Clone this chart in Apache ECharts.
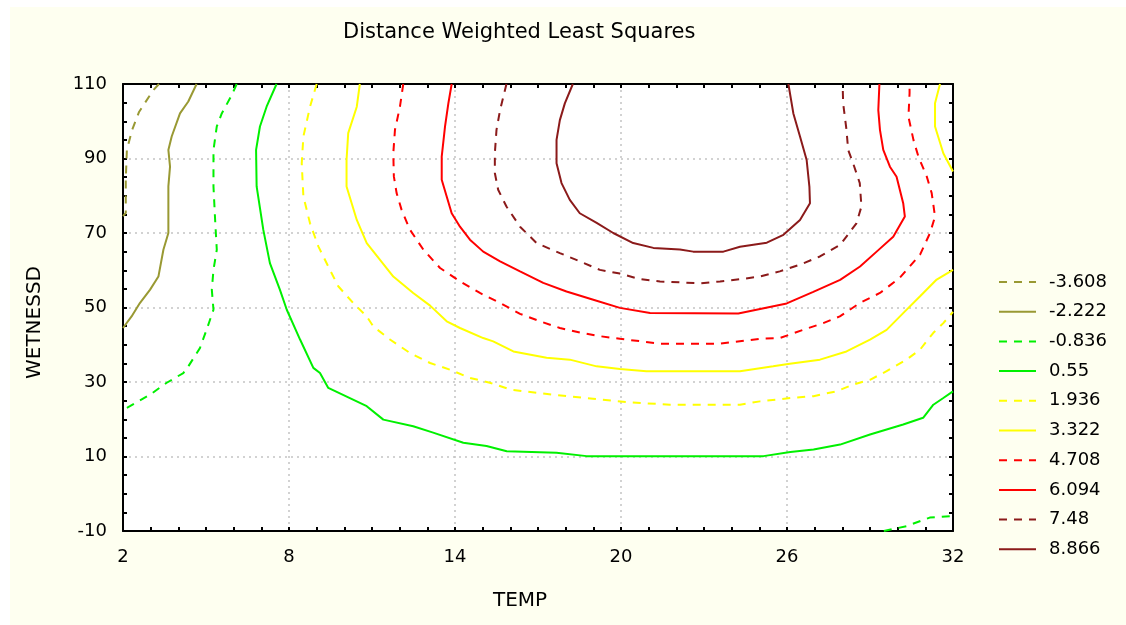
<!DOCTYPE html>
<html>
<head>
<meta charset="utf-8">
<script src="https://cdn.jsdelivr.net/npm/echarts@6.0.0/dist/echarts.min.js"></script>
<style>
  html, body { margin: 0; background: #fff; }
  #chart { position: absolute; left: 10px; top: 7px; width: 1116px; height: 618px; }
</style>
</head>
<body>
<div id="chart"></div>
<script>
// contour levels (legend order)
const levels = ['-3.608', '-2.222', '-0.836', '0.55', '1.936', '3.322', '4.708', '6.094', '7.48', '8.866'];

// contour lines, points as [TEMP, WETNESSD]
const lvlM3608 = [[3.3,110],[3.08,108.2],[2.58,102.5],[2.33,97.7],[2.14,92.3],[2.1,84.3],[2.1,75.4],[2.0,74.5]];
const lvlM2222 = [[4.66,110],[4.36,105.3],[4.06,102.1],[3.76,95.9],[3.64,92.3],[3.7,87.8],[3.64,82.5],[3.64,70],[3.46,65.5],[3.28,58.3],[2.98,54.8],[2.61,51.2],[2.31,47.6],[2.0,44.5]];
const lvlM0836a = [[6.11,110],[5.93,107],[5.57,102.1],[5.39,98.6],[5.27,92.3],[5.27,82.5],[5.33,73.5],[5.39,65.5],[5.27,60.1],[5.21,54.8],[5.27,49.4],[5.02,44.0],[4.78,39.1],[4.36,34.2],[4.18,32.4],[3.58,29.8],[2.98,26.6],[2.25,23.5],[2.0,22.5]];
const lvlM0836b = [[29.5,-10],[30.32,-8.7],[31.16,-6.4],[32,-6]];
const lvl0550 = [[7.55,110],[7.19,103.9],[6.95,98.6],[6.81,92.3],[6.83,82.5],[7.07,70.9],[7.31,61.9],[7.67,54.8],[7.92,49.4],[8.4,41.4],[8.88,33.8],[9.12,32.4],[9.42,28.4],[10.81,23.5],[11.41,19.9],[12.49,18.1],[13.21,16.4],[14.3,13.7],[15.14,12.8],[15.87,11.4],[17.67,11.0],[18.76,10.1],[25.15,10.1],[26.12,11.2],[26.96,11.9],[27.92,13.2],[29.0,15.9],[30.2,18.6],[30.92,20.4],[31.29,23.9],[31.65,25.7],[32,27.5]];
const lvl1936 = [[9.0,110],[8.76,103.9],[8.52,95.9],[8.46,88.7],[8.52,79.8],[8.76,72.6],[9.06,66.4],[9.48,60.1],[9.78,55.7],[10.32,51.2],[10.81,47.6],[11.05,44.9],[11.65,41.4],[12.37,37.8],[13.1,35.1],[13.82,33.3],[14.54,31.1],[15.26,29.8],[15.99,28.0],[16.6,27.4],[17.55,26.6],[18.99,25.5],[20.2,24.6],[21.77,23.9],[24.3,23.9],[25.02,24.8],[26.12,25.7],[26.96,26.2],[27.79,27.5],[28.39,29.3],[29.0,30.6],[29.6,32.9],[30.32,36.0],[30.81,38.7],[31.29,43.2],[31.65,45.8],[32,48.8]];
const lvl3322a = [[10.56,110],[10.45,103.9],[10.14,96.8],[10.08,89.6],[10.08,82.5],[10.45,73.5],[10.81,67.3],[11.29,62.8],[11.77,58.3],[12.49,53.9],[13.1,50.5],[13.7,46.3],[14.18,44.5],[15.02,41.8],[15.38,40.9],[16.11,38.2],[17.31,36.5],[18.15,36.0],[19.12,34.2],[19.96,33.5],[20.92,32.9],[24.3,32.9],[25.5,34.2],[26.1,34.9],[27.19,36.0],[28.15,38.2],[29.0,41.4],[29.6,44.0],[30.2,48.5],[30.81,53.0],[31.41,57.5],[32,60.1]];
const lvl3322b = [[31.53,110],[31.35,104.8],[31.35,98.6],[31.65,91.4],[32,86.5]];
const lvl4708 = [[12.13,110],[12.01,103.9],[11.83,97.7],[11.77,91.4],[11.79,85.2],[11.89,80.7],[12.07,76.2],[12.37,70.9],[12.86,65.5],[13.46,60.6],[14.18,57.0],[14.9,53.9],[15.63,51.2],[16.35,48.3],[17.07,46.3],[17.79,44.5],[18.51,43.3],[19.24,42.3],[19.96,41.6],[21.41,40.3],[23.58,40.3],[25.02,41.6],[25.74,41.8],[26.58,44.0],[27.31,45.8],[27.91,47.6],[28.63,51.2],[29.36,53.9],[30.08,58.0],[30.81,64.2],[31.17,70.0],[31.35,74.4],[31.23,80.7],[31.05,85.2],[30.75,90.5],[30.57,95.0],[30.39,101.2],[30.43,107.5],[30.43,110]];
const lvl6094 = [[13.88,110],[13.76,104.8],[13.64,98.6],[13.52,90.5],[13.52,84.3],[13.7,79.8],[13.88,75.3],[14.18,71.7],[14.54,68.2],[15.02,65.0],[15.63,62.4],[16.35,59.7],[17.19,56.6],[18.03,54.3],[19.0,52.1],[19.96,49.9],[21.05,48.5],[24.24,48.4],[25.99,51.1],[26.95,54.2],[27.92,57.4],[28.64,61.0],[29.24,65.0],[29.84,69.0],[30.26,74.4],[30.2,78.0],[29.96,85.1],[29.72,87.8],[29.48,92.3],[29.36,97.7],[29.3,103.0],[29.34,110]];
const lvl7480 = [[15.86,110],[15.63,103.0],[15.5,97.7],[15.44,91.4],[15.44,86.1],[15.56,81.6],[15.86,77.1],[16.35,71.7],[16.95,67.3],[17.79,64.6],[18.51,62.4],[19.24,60.1],[19.96,59.1],[20.69,57.6],[21.41,57.0],[22.85,56.5],[23.58,57.0],[24.3,57.6],[25.02,58.3],[25.74,59.7],[26.47,61.5],[27.19,63.7],[27.92,66.8],[28.51,72.6],[28.69,77.1],[28.63,83.4],[28.39,88.7],[28.21,92.3],[28.15,97.7],[28.03,104.8],[28.01,110]];
const lvl8866 = [[18.26,110],[17.97,104.8],[17.79,100.3],[17.67,95.0],[17.67,88.7],[17.85,83.4],[18.15,78.9],[18.51,75.3],[19.12,72.7],[19.72,70.0],[20.44,67.3],[21.17,66.0],[22.13,65.6],[22.61,65.0],[23.7,65.0],[24.3,66.3],[25.27,67.4],[25.87,69.5],[26.47,73.5],[26.83,78.0],[26.81,82.4],[26.71,89.6],[26.47,95.9],[26.23,102.1],[26.05,110]];

// which array belongs to which level
const pieces = [
  ['-3.608', lvlM3608], ['-2.222', lvlM2222],
  ['-0.836', lvlM0836a], ['-0.836', lvlM0836b],
  ['0.55', lvl0550], ['1.936', lvl1936],
  ['3.322', lvl3322a], ['3.322', lvl3322b],
  ['4.708', lvl4708], ['6.094', lvl6094],
  ['7.48', lvl7480], ['8.866', lvl8866]
];

// line styles per level
const DASH = [8, 7];
const styles = {
  '-3.608': { color: '#999933', type: DASH },
  '-2.222': { color: '#999933', type: 'solid' },
  '-0.836': { color: '#00f000', type: DASH },
  '0.55':   { color: '#00f000', type: 'solid' },
  '1.936':  { color: '#ffff00', type: DASH },
  '3.322':  { color: '#ffff00', type: 'solid' },
  '4.708':  { color: '#ff0000', type: DASH },
  '6.094':  { color: '#ff0000', type: 'solid' },
  '7.48':   { color: '#8b1a1a', type: DASH },
  '8.866':  { color: '#8b1a1a', type: 'solid' }
};

const FONT = 'DejaVu Sans';
const chart = echarts.init(document.getElementById('chart'));

const tickStyle = { color: '#000', width: 2 };
const frameLine = { onZero: false, lineStyle: { color: '#000', width: 2 } };
const gridLine = { show: true, lineStyle: { color: '#c4c4c4', width: 1.5, type: [2, 4] } };

const option = {
  backgroundColor: '#fefff0',
  animation: false,
  title: {
    text: 'Distance Weighted Least Squares',
    left: 333,
    top: 15,
    padding: 0,
    textStyle: { fontFamily: FONT, fontSize: 21, fontWeight: 'normal', color: '#000' }
  },
  legend: {
    data: levels,
    orient: 'vertical',
    left: 988,
    top: 266,
    itemWidth: 37,
    itemHeight: 14,
    itemGap: 11.7,
    padding: 0,
    itemStyle: { opacity: 0 },
    textStyle: { fontFamily: FONT, fontSize: 18, color: '#000', padding: [0, 0, 0, 8] }
  },
  grid: {
    left: 113, top: 77, width: 830, height: 447,
    show: true, backgroundColor: '#ffffff', borderWidth: 0,
    outerBoundsMode: 'none'
  },
  xAxis: [{
    type: 'value', position: 'bottom',
    min: 2, max: 32, interval: 6,
    name: 'TEMP', nameLocation: 'middle', nameGap: 60,
    nameTextStyle: { fontFamily: FONT, fontSize: 20, color: '#000', padding: [0, 36, 0, 0] },
    axisLine: frameLine,
    axisTick: { inside: true, length: 4, lineStyle: tickStyle },
    minorTick: { show: true, splitNumber: 6, length: 4, lineStyle: tickStyle },
    axisLabel: { fontFamily: FONT, fontSize: 18, color: '#000', margin: 17 },
    splitLine: gridLine
  }, {
    type: 'value', position: 'top',
    min: 2, max: 32, interval: 6,
    axisLine: frameLine,
    axisTick: { inside: true, length: 4, lineStyle: tickStyle },
    minorTick: { show: true, splitNumber: 6, length: 4, lineStyle: tickStyle },
    axisLabel: { show: false },
    splitLine: { show: false }
  }],
  yAxis: [{
    type: 'value', position: 'left',
    min: -10, max: 110, interval: 20,
    name: 'WETNESSD', nameLocation: 'middle', nameGap: 78,
    nameTextStyle: { fontFamily: FONT, fontSize: 20, color: '#000', padding: [0, 30, 0, 0] },
    axisLine: frameLine,
    axisTick: { inside: true, length: 4, lineStyle: tickStyle },
    minorTick: { show: true, splitNumber: 4, length: 4, lineStyle: tickStyle },
    axisLabel: { fontFamily: FONT, fontSize: 18, color: '#000', margin: 16 },
    splitLine: gridLine
  }, {
    type: 'value', position: 'right',
    min: -10, max: 110, interval: 20,
    axisLine: frameLine,
    axisTick: { inside: true, length: 4, lineStyle: tickStyle },
    minorTick: { show: true, splitNumber: 4, length: 4, lineStyle: tickStyle },
    axisLabel: { show: false },
    splitLine: { show: false }
  }],
  series: pieces.map(([name, data]) => ({
    name: name,
    type: 'line',
    data: data,
    symbol: 'none',
    smooth: false,
    lineStyle: { color: styles[name].color, width: 2, type: styles[name].type },
    itemStyle: { color: styles[name].color },
    emphasis: { disabled: true }
  }))
};

chart.setOption(option);
</script>
</body>
</html>
